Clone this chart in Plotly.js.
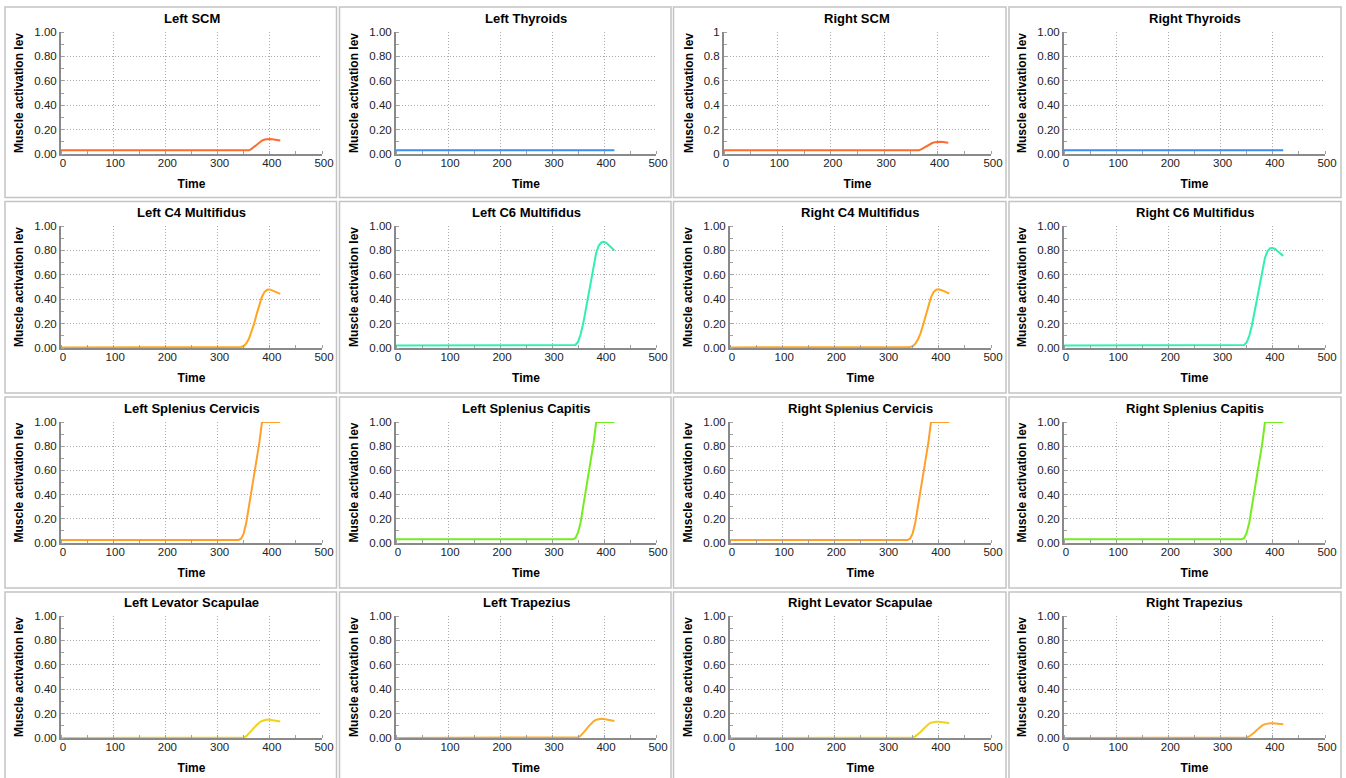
<!DOCTYPE html>
<html><head><meta charset="utf-8">
<script src="https://cdn.plot.ly/plotly-3.0.1.min.js"></script>
<style>html,body{margin:0;padding:0;background:#fff;} #chart{width:1346px;height:778px;}</style>
</head><body><div id="chart"></div>
<script>
// ---- data ----
const time = [0, 340, 345, 350, 355, 360, 365, 370, 375, 380, 385, 390, 395, 400, 405, 410, 415, 420];

const muscleNames = [
  "Left SCM", "Left Thyroids", "Right SCM", "Right Thyroids",
  "Left C4 Multifidus", "Left C6 Multifidus", "Right C4 Multifidus", "Right C6 Multifidus",
  "Left Splenius Cervicis", "Left Splenius Capitis", "Right Splenius Cervicis", "Right Splenius Capitis",
  "Left Levator Scapulae", "Left Trapezius", "Right Levator Scapulae", "Right Trapezius"
];

const leftSCM       = [0.03, 0.03, 0.03, 0.03, 0.03, 0.03, 0.042, 0.06, 0.08, 0.097, 0.11, 0.119, 0.123, 0.123, 0.121, 0.118, 0.114, 0.11];
const leftThyroids  = [0.03, 0.03, 0.03, 0.03, 0.03, 0.03, 0.03, 0.03, 0.03, 0.03, 0.03, 0.03, 0.03, 0.03, 0.03, 0.03, 0.03, 0.03];
const rightSCM      = [0.03, 0.03, 0.03, 0.03, 0.03, 0.03, 0.03, 0.04, 0.053, 0.067, 0.08, 0.09, 0.097, 0.1, 0.1, 0.098, 0.095, 0.092];
const rightThyroids = [0.03, 0.03, 0.03, 0.03, 0.03, 0.03, 0.03, 0.03, 0.03, 0.03, 0.03, 0.03, 0.03, 0.03, 0.03, 0.03, 0.03, 0.03];

const leftC4Multifidus  = [0.005, 0.005, 0.008, 0.016, 0.038, 0.075, 0.13, 0.2, 0.28, 0.36, 0.42, 0.46, 0.478, 0.48, 0.472, 0.462, 0.452, 0.443];
const leftC6Multifidus  = [0.02, 0.02, 0.025, 0.05, 0.11, 0.2, 0.32, 0.45, 0.57, 0.69, 0.78, 0.84, 0.865, 0.87, 0.86, 0.84, 0.82, 0.80];
const rightC4Multifidus = [0.005, 0.005, 0.008, 0.015, 0.034, 0.07, 0.12, 0.19, 0.27, 0.35, 0.415, 0.458, 0.478, 0.482, 0.476, 0.466, 0.456, 0.447];
const rightC6Multifidus = [0.02, 0.02, 0.024, 0.047, 0.1, 0.185, 0.3, 0.42, 0.54, 0.65, 0.74, 0.795, 0.818, 0.82, 0.81, 0.79, 0.77, 0.755];

const leftSpleniusCervicis  = [0.025, 0.025, 0.035, 0.08, 0.17, 0.3, 0.43, 0.56, 0.69, 0.83, 1.0, 1.0, 1.0, 1.0, 1.0, 1.0, 1.0, 1.0];
const leftSpleniusCapitis   = [0.03, 0.03, 0.04, 0.085, 0.17, 0.3, 0.43, 0.56, 0.69, 0.83, 1.0, 1.0, 1.0, 1.0, 1.0, 1.0, 1.0, 1.0];
const rightSpleniusCervicis = [0.025, 0.025, 0.035, 0.08, 0.17, 0.3, 0.43, 0.56, 0.69, 0.83, 1.0, 1.0, 1.0, 1.0, 1.0, 1.0, 1.0, 1.0];
const rightSpleniusCapitis  = [0.03, 0.03, 0.04, 0.085, 0.17, 0.3, 0.43, 0.56, 0.69, 0.83, 1.0, 1.0, 1.0, 1.0, 1.0, 1.0, 1.0, 1.0];

const leftLevatorScapulae  = [0, 0, 0, 0.004, 0.015, 0.035, 0.06, 0.085, 0.108, 0.127, 0.14, 0.148, 0.151, 0.15, 0.146, 0.142, 0.139, 0.136];
const leftTrapezius        = [0, 0, 0, 0.005, 0.018, 0.04, 0.067, 0.093, 0.117, 0.137, 0.15, 0.156, 0.157, 0.155, 0.151, 0.147, 0.143, 0.14];
const rightLevatorScapulae = [0, 0, 0, 0.004, 0.014, 0.03, 0.05, 0.072, 0.095, 0.113, 0.125, 0.131, 0.133, 0.133, 0.132, 0.129, 0.125, 0.121];
const rightTrapezius       = [0, 0, 0, 0.004, 0.013, 0.028, 0.047, 0.067, 0.087, 0.103, 0.114, 0.12, 0.121, 0.12, 0.118, 0.116, 0.114, 0.112];

const xTickVals = [0, 100, 200, 300, 400, 500];
const yTickVals = [0, 0.2, 0.4, 0.6, 0.8, 1.0];
const xTitle = "Time";
const yTitle = "Muscle activation lev";

const seriesList = [
  leftSCM, leftThyroids, rightSCM, rightThyroids,
  leftC4Multifidus, leftC6Multifidus, rightC4Multifidus, rightC6Multifidus,
  leftSpleniusCervicis, leftSpleniusCapitis, rightSpleniusCervicis, rightSpleniusCapitis,
  leftLevatorScapulae, leftTrapezius, rightLevatorScapulae, rightTrapezius
];

// ---- styling ----
const lineColors = [
  "#ff6b2e", "#3b8ef2", "#ff6b2e", "#3b8ef2",
  "#ffa51e", "#30efb2", "#ffa51e", "#30efb2",
  "#ffa02c", "#74ec20", "#ffa02c", "#74ec20",
  "#f1d21a", "#ffaa28", "#f1d21a", "#ffa830"
];

const W = 1346, H = 778;
const colPlot = [[61, 322], [396, 656], [730, 991], [1064, 1325]];
const rowPlot = [[32, 154], [226, 348], [422, 543], [616, 738]];
const panelX = [[5, 336.5], [339.5, 671], [673.5, 1006], [1009, 1341]];
const panelY = [[7, 197.5], [201.5, 393], [397, 588], [592, 790]];
const FONT = "Liberation Sans, Arial, Helvetica, sans-serif";

const traces = [];
const layout = {
  width: W, height: H,
  margin: {l: 0, r: 0, t: 0, b: 0},
  paper_bgcolor: "#ffffff", plot_bgcolor: "#ffffff",
  showlegend: false,
  font: {family: FONT, size: 11.5, color: "#222"},
  shapes: [], annotations: []
};

for (let i = 0; i < 16; i++) {
  const r = Math.floor(i / 4), c = i % 4;
  const n = i === 0 ? "" : String(i + 1);
  let [x0, x1] = colPlot[c];
  if (i === 2) x0 = 724;
  const [y0, y1] = rowPlot[r];
  traces.push({
    x: time, y: seriesList[i], type: "scatter", mode: "lines",
    xaxis: "x" + n, yaxis: "y" + n,
    line: {color: lineColors[i], width: 2},
    hoverinfo: "skip"
  });
  layout["xaxis" + n] = {
    domain: [x0 / W, x1 / W], anchor: "y" + n,
    range: [0, 500], tickmode: "array", tickvals: xTickVals,
    showgrid: true, gridcolor: "#aaaaaa", griddash: "1px,2px", gridwidth: 1,
    zeroline: false, showline: true, linecolor: "#8a8a8a", linewidth: 2,
    ticks: "", tickfont: {family: FONT, size: 11.5, color: "#222"},
    ticklabelstandoff: -3, ticklabelshift: 2,
    minor: {ticks: "inside", ticklen: 3, tickcolor: "#a0a0a0", dtick: 50, tick0: 0, showgrid: false},
    title: {text: xTitle, font: {family: FONT, size: 12, color: "#000", weight: "bold"}, standoff: 12},
    fixedrange: true
  };
  layout["yaxis" + n] = {
    domain: [1 - y1 / H, 1 - y0 / H], anchor: "x" + n,
    range: [0, 1], tickmode: "array", tickvals: yTickVals,
    ticktext: i === 2 ? ["0", "0.2", "0.4", "0.6", "0.8", "1"] : yTickVals.map(v => v.toFixed(2)),
    showgrid: true, gridcolor: "#aaaaaa", griddash: "1px,2px", gridwidth: 1,
    zeroline: false, showline: true, linecolor: "#8a8a8a", linewidth: 2,
    ticks: "", tickfont: {family: FONT, size: 11.5, color: "#222"},
    minor: {ticks: "inside", ticklen: 3, tickcolor: "#a0a0a0", dtick: 0.1, tick0: 0, showgrid: false},
    title: {text: yTitle, font: {family: FONT, size: 12, color: "#000", weight: "bold"}, standoff: 8},
    fixedrange: true
  };
  // panel border
  layout.shapes.push({
    type: "rect", xref: "paper", yref: "paper", layer: "below",
    x0: panelX[c][0] / W, x1: panelX[c][1] / W,
    y0: 1 - panelY[r][1] / H, y1: 1 - panelY[r][0] / H,
    line: {color: "#c4c4c4", width: 1.5}, fillcolor: "rgba(0,0,0,0)"
  });
  // subplot title
  layout.annotations.push({
    text: muscleNames[i], xref: "paper", yref: "paper",
    x: ((x0 + x1) / 2) / W, y: 1 - (y0 - 14) / H,
    xanchor: "center", yanchor: "middle", showarrow: false,
    font: {family: FONT, size: 13, color: "#000", weight: "bold"}
  });
}

Plotly.newPlot("chart", traces, layout, {displayModeBar: false, staticPlot: true});
</script>
</body></html>
